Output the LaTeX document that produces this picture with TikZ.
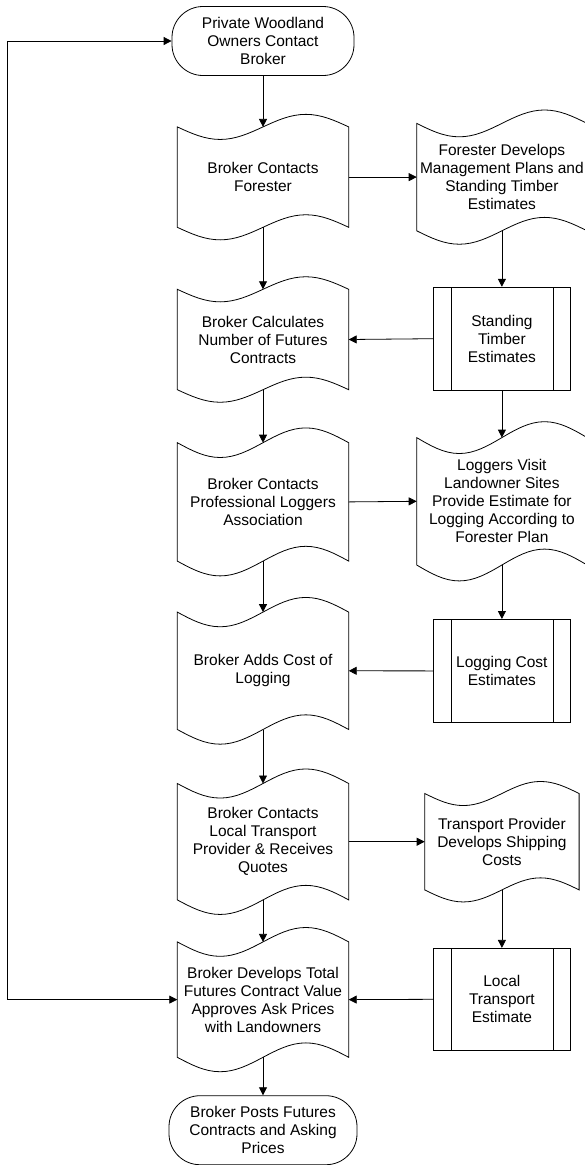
\documentclass[tikz,border=0pt]{standalone}
\usepackage{fontspec}
\setmainfont{Liberation Sans}
\usetikzlibrary{positioning,arrows.meta,calc}
\tikzset{
  base/.style={rectangle,align=center,inner sep=1pt,font=\fontsize{15.5}{18}\selectfont},
  tapebox/.style={base,minimum width=171pt},
  procbox/.style={base,draw,line width=0.8pt,minimum width=137pt,minimum height=103pt,
    path picture={\draw[line width=0.8pt]
      ([xshift=18pt]path picture bounding box.north west) -- ([xshift=18pt]path picture bounding box.south west)
      ([xshift=-17pt]path picture bounding box.north east) -- ([xshift=-17pt]path picture bounding box.south east);}},
  termbox/.style={base,draw,line width=0.8pt,rounded corners=31pt,minimum height=69pt},
  outline/.style={draw,line width=0.8pt},
  edge/.style={-{Triangle[length=8pt,width=8pt]},line width=0.8pt},
  biedge/.style={{Triangle[length=8pt,width=8pt]}-{Triangle[length=8pt,width=8pt]},line width=0.8pt}
}
% wavy outline round a tapebox
\newcommand{\tapeoutline}[1]{%
  \draw[outline] let \p1=(#1.north west), \p2=(#1.south east),
    \n1={(\x2-\x1)/4}, \n2={0.125*(\y1-\y2)} in
    (\x1,\y1) sin ++(\n1,{-\n2}) cos ++(\n1,\n2) sin ++(\n1,\n2) cos ++(\n1,{-\n2})
    -- (\x2,\y2) sin ++({-\n1},\n2) cos ++({-\n1},{-\n2}) sin ++({-\n1},{-\n2}) cos ++({-\n1},\n2) -- cycle;}

\begin{document}
\begin{tikzpicture}[x=1pt,y=1pt]
  \useasboundingbox (0,0) rectangle (585,-1165);
  \node[termbox,minimum width=182pt] (owners) at (263,-41) {Private Woodland\\Owners Contact\\Broker};
  \node[tapebox,minimum height=100pt,below=51pt of owners] (forester) {Broker Contacts\\Forester};
  \node[tapebox,minimum width=170pt,minimum height=107pt,right=68pt of forester] (plans) {Forester Develops\\Management Plans and\\Standing Timber\\Estimates};
  \node[procbox,below=56pt of plans] (timber) {Standing\\Timber\\Estimates};
  \node[tapebox,minimum height=100pt,below=62pt of forester] (contracts) {Broker Calculates\\Number of Futures\\Contracts};
  \node[tapebox,minimum height=118pt,below=53pt of contracts] (association) {Broker Contacts\\Professional Loggers\\Association};
  \node[tapebox,minimum width=170pt,minimum height=127pt,below=47pt of timber] (visit) {Loggers Visit\\Landowner Sites\\Provide Estimate for\\Logging According to\\Forester Plan};
  \node[procbox,below=54pt of visit] (logcost) {Logging Cost\\Estimates};
  \node[tapebox,minimum height=117pt,below=51pt of association] (addcost) {Broker Adds Cost of\\Logging};
  \node[tapebox,minimum height=116pt,below=54pt of addcost] (transport) {Broker Contacts\\Local Transport\\Provider \& Receives\\Quotes};
  \node[tapebox,minimum width=154pt,minimum height=96pt,right=76pt of transport] (shipping) {Transport Provider\\Develops Shipping\\Costs};
  \node[procbox,minimum height=102pt,below=58pt of shipping] (transportest) {Local\\Transport\\Estimate};
  \node[tapebox,minimum height=115pt,below=42pt of transport] (total) {Broker Develops Total\\Futures Contract Value\\Approves Ask Prices\\with Landowners};
  \node[termbox,minimum width=188pt,below=38pt of total] (post) {Broker Posts Futures\\Contracts and Asking\\Prices};
  \foreach \b in {forester,plans,contracts,association,visit,addcost,transport,shipping,total}
    \tapeoutline{\b};
  \coordinate (loopcorner) at (7,-41);
  \draw[edge] (owners.south) -- (forester.north);
  \draw[edge] (forester.east) -- (plans.west);
  \draw[edge] (plans.south) -- (timber.north);
  \draw[edge] (timber.west) -- (contracts.east);
  \draw[edge] (forester.south) -- (contracts.north);
  \draw[edge] (contracts.south) -- (association.north);
  \draw[edge] (timber.south) -- (visit.north);
  \draw[edge] (association.east) -- (visit.west);
  \draw[edge] (visit.south) -- (logcost.north);
  \draw[edge] (logcost.west) -- (addcost.east);
  \draw[edge] (association.south) -- (addcost.north);
  \draw[edge] (addcost.south) -- (transport.north);
  \draw[edge] (transport.east) -- (shipping.west);
  \draw[edge] (shipping.south) -- (transportest.north);
  \draw[edge] (transportest.west) -- (total.east);
  \draw[edge] (transport.south) -- (total.north);
  \draw[edge] (total.south) -- (post.north);
  \draw[biedge] (owners.west) -- (loopcorner) |- (total.west);
\end{tikzpicture}
\end{document}
